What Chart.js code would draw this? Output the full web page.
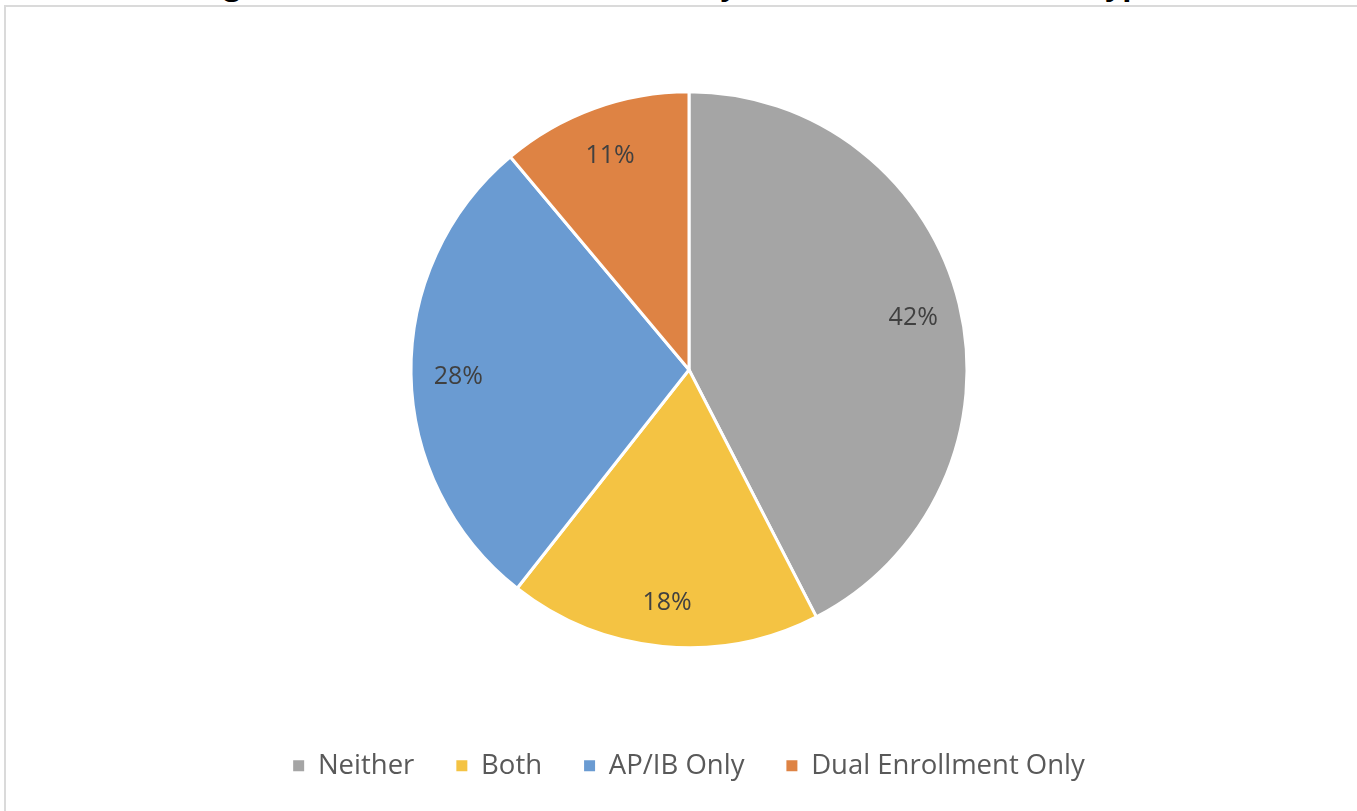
<!DOCTYPE html>
<html>
<head>
<meta charset="utf-8">
<script src="https://cdn.jsdelivr.net/npm/chart.js@4.4.0/dist/chart.umd.min.js"></script>
<style>
  html, body { margin: 0; padding: 0; background: #fff; overflow: hidden; }
  body { width: 1357px; height: 811px; position: relative; }
  #frame {
    position: absolute; left: 4px; top: 5px; width: 1400px; height: 850px;
    border-top: 2px solid #dadada; border-left: 2px solid #dadada;
  }
  #title {
    position: absolute; left: 0; top: -31px; width: 1357px; text-align: center;
    font: bold 30px "Open Sans", sans-serif; line-height: 30px; color: #000;
    white-space: nowrap;
  }
  #chart { position: absolute; left: 0; top: 0; }
</style>
</head>
<body>
<div id="frame"></div>
<div id="title">Figure 2. Distribution of Students by Advanced Coursework Type</div>
<canvas id="chart" width="1357" height="811"></canvas>
<script>
// Slice data, clockwise from 12 o'clock
const categories = ["Neither", "Both", "AP/IB Only", "Dual Enrollment Only"];
const percents = [42, 18, 28, 11];
const sliceColors = ["#a5a5a5", "#f4c343", "#6a9bd2", "#de8344"];

const chart = document.getElementById("chart");

// Draw the % labels inside each slice
const pctLabels = {
  id: "pctLabels",
  afterDatasetsDraw(c) {
    const ctx = c.ctx;
    const meta = c.getDatasetMeta(0);
    ctx.save();
    ctx.font = '25px "Open Sans"';
    ctx.fillStyle = "#404040";
    ctx.textAlign = "center";
    ctx.textBaseline = "middle";
    meta.data.forEach((arc, i) => {
      const p = arc.getProps(["x", "y", "startAngle", "endAngle", "outerRadius"], true);
      const mid = (p.startAngle + p.endAngle) / 2;
      const r = p.outerRadius * 0.83;
      ctx.fillText(percents[i] + "%", p.x + Math.cos(mid) * r, p.y + Math.sin(mid) * r + 3);
    });
    ctx.restore();
  },
};

const config = {
  type: "pie",
  data: {
    labels: categories,
    datasets: [
      {
        data: percents,
        backgroundColor: sliceColors,
        borderColor: "#ffffff",
        borderWidth: 3,
      },
    ],
  },
  options: {
    responsive: false,
    animation: false,
    radius: 278,
    layout: { padding: { top: 29.5, bottom: 21.5, left: 21, right: 0 } },
    plugins: {
      tooltip: { enabled: false },
      legend: {
        position: "bottom",
        labels: {
          boxWidth: 11,
          boxHeight: 11,
          padding: 42,
          color: "#595959",
          font: { family: "Open Sans", size: 27.5 },
          generateLabels: (c) => {
            const items = Chart.overrides.pie.plugins.legend.labels.generateLabels(c);
            items.forEach((it) => {
              it.lineWidth = 0;
              it.strokeStyle = "rgba(0,0,0,0)";
            });
            return items;
          },
        },
      },
    },
  },
  plugins: [pctLabels],
};

new Chart(chart, config);
</script>
</body>
</html>
